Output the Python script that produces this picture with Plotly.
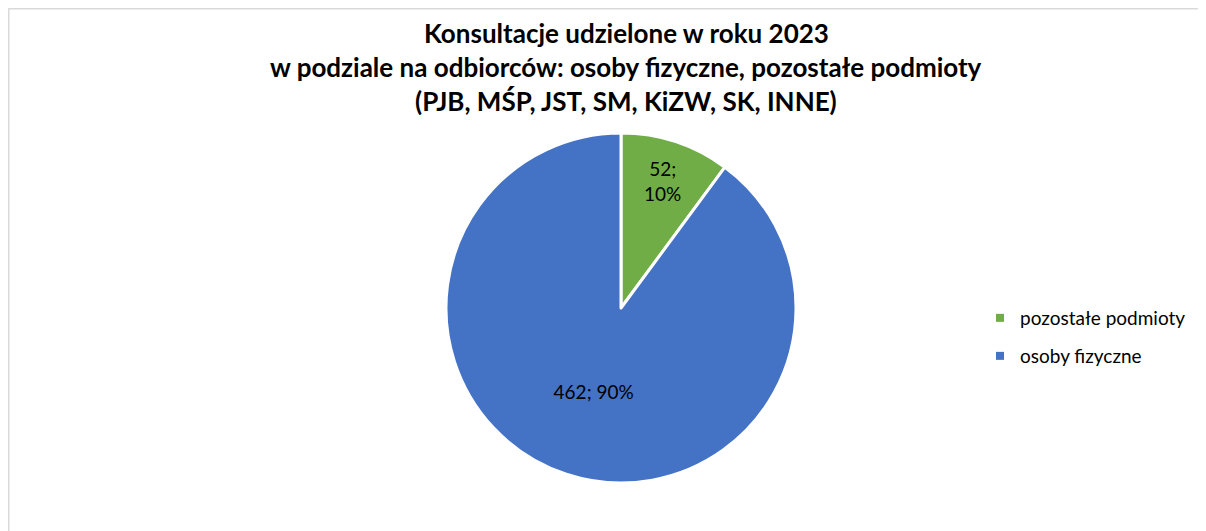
import plotly.graph_objects as go

labels = ["pozostałe podmioty", "osoby fizyczne"]
values = [52, 462]
colors = ["#70AD47", "#4472C4"]
title_lines = [
    "Konsultacje udzielone w roku 2023",
    "w podziale na odbiorców: osoby fizyczne, pozostałe podmioty",
    "(PJB, MŚP, JST, SM, KiZW, SK, INNE)",
]
label_texts = ["52;<br>10%", "462; 90%"]

W, H = 1206, 531
OFF = 8  # page body margin
cx, cy, r = 621 - OFF, 308 - OFF, 175

fig = go.Figure(go.Pie(
    labels=labels,
    values=values,
    text=label_texts,
    textinfo="text",
    texttemplate="%{text}",
    sort=False,
    direction="clockwise",
    rotation=0,
    marker=dict(colors=colors, line=dict(color="white", width=3)),
    textposition="inside",
    insidetextorientation="horizontal",
    textfont=dict(family="Lato, sans-serif", size=19, color="black"),
    hole=0,
    showlegend=False,
    domain=dict(x=[(cx - r) / W, (cx + r) / W], y=[1 - (cy + r) / H, 1 - (cy - r) / H]),
))

# legend entries (one per legend box so the spacing matches the reference)
legend_names = ["legend", "legend2"]
legend_y = [318, 356]
for name, col, lg in zip(labels, colors, legend_names):
    fig.add_trace(go.Scatter(
        x=[None], y=[None], mode="markers", name=name, legend=lg,
        marker=dict(symbol="square", color=col, size=8),
        showlegend=True, hoverinfo="skip",
    ))

annotations = []
for i, t in enumerate(title_lines):
    annotations.append(dict(
        text=t, xref="paper", yref="paper", x=(626 - OFF) / W, y=1 - (33 + 34 * i - OFF) / H,
        xanchor="center", yanchor="middle", showarrow=False,
        font=dict(family="Lato, sans-serif", size=26, color="black", weight="bold"),
    ))

legend_style = dict(
    xanchor="left", yanchor="middle",
    font=dict(family="Lato, sans-serif", size=19, color="black"),
    bgcolor="rgba(0,0,0,0)",
)
fig.update_layout(
    width=W, height=H,
    margin=dict(l=0, r=0, t=0, b=0),
    paper_bgcolor="white",
    plot_bgcolor="white",
    xaxis=dict(visible=False),
    yaxis=dict(visible=False),
    legend=dict(x=(980 - OFF) / W, y=1 - (legend_y[0] - OFF) / H, **legend_style),
    legend2=dict(x=(980 - OFF) / W, y=1 - (legend_y[1] - OFF) / H, **legend_style),
    annotations=annotations,
    shapes=[dict(type="rect", xref="paper", yref="paper",
                 x0=0, x1=1.2, y0=-0.2, y1=1,
                 line=dict(color="#D9D9D9", width=3), fillcolor="rgba(0,0,0,0)", layer="below")],
)

fig.write_html("out.html")
